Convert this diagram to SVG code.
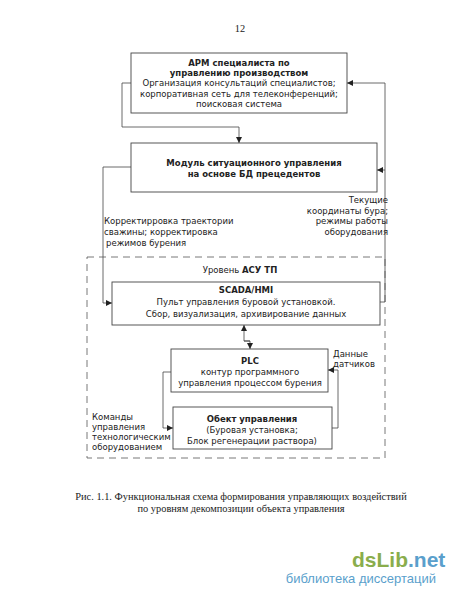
<svg xmlns="http://www.w3.org/2000/svg" width="450" height="599" viewBox="0 0 450 599">
<defs>
<marker id="ah" viewBox="0 0 10 10" refX="10" refY="5" markerWidth="6" markerHeight="6" markerUnits="userSpaceOnUse" orient="auto"><path d="M0,0 L10,5 L0,10 z" fill="#222"/></marker>
<style>
.box{fill:#fff;stroke:#444;stroke-width:0.9}
.ln{fill:none;stroke:#444;stroke-width:0.8}
.dash{fill:none;stroke:#555;stroke-width:0.8;stroke-dasharray:7,5}
text{font-family:"DejaVu Sans",Verdana,sans-serif;font-size:8.5px;fill:#222}
.c{text-anchor:middle}
.b{font-weight:bold}
.r{text-anchor:end}
.cap{font-family:"Liberation Serif","Times New Roman",serif;font-size:10.4px;text-anchor:middle;fill:#222}
</style>
</defs>
<rect width="450" height="599" fill="#fff"/>
<text class="cap" x="240" y="32">12</text>
<g id="connectors">
<polyline class="ln" points="131,83 122,83 122,127 239,127 239,143" marker-end="url(#ah)"/>
<polyline class="ln" points="380,302 385,302 385,83 347,83" marker-end="url(#ah)"/>
<polyline class="ln" points="385,170 377,170" marker-end="url(#ah)"/>
<polyline class="ln" points="131,167 103,167 103,303 112,303" marker-end="url(#ah)"/>
<polyline class="ln" points="250,341 244,341 244,325" marker-end="url(#ah)"/>
<polyline class="ln" points="244,341 250,341 250,349" marker-end="url(#ah)"/>
<polyline class="ln" points="171,372 163,372 163,428 173,428" marker-end="url(#ah)"/>
<polyline class="ln" points="332,428 338,428 338,370 328,370" marker-end="url(#ah)"/>
</g>
<g id="asu-level">
<rect class="dash" x="87" y="257" width="298" height="201"/>
<text class="c" x="240" y="273">Уровень <tspan class="b">АСУ ТП</tspan></text>
</g>
<g id="arm">
<rect class="box" x="131" y="53" width="216" height="60"/>
<text class="c b" x="239" y="66">АРМ специалиста по</text>
<text class="c b" x="239" y="76">управлению производством</text>
<text class="c" x="239" y="86">Организация консультаций специалистов;</text>
<text class="c" x="239" y="97">корпоративная сеть для телеконференций;</text>
<text class="c" x="239" y="107">поисковая система</text>
</g>
<g id="module">
<rect class="box" x="131" y="143" width="246" height="49"/>
<text class="c b" x="254" y="166">Модуль ситуационного управления</text>
<text class="c b" x="254" y="177">на основе БД прецедентов</text>
</g>
<g id="label-correction">
<text x="104" y="224">Корректирровка траектории</text>
<text x="104" y="235">сважины; корректировка</text>
<text x="106" y="246">режимов бурения</text>
</g>
<g id="label-coords">
<text class="r" x="388" y="203">Текущие</text>
<text class="r" x="388" y="214">координаты бура;</text>
<text class="r" x="388" y="224">режимы работы</text>
<text class="r" x="388" y="235">оборудования</text>
</g>
<g id="scada">
<rect class="box" x="112" y="282" width="268" height="43"/>
<text class="c b" x="246" y="293">SCADA/HMI</text>
<text class="c" x="246" y="305">Пульт управления буровой установкой.</text>
<text class="c" x="246" y="317">Сбор, визуализация, архивирование данных</text>
</g>
<g id="plc">
<rect class="box" x="171" y="349" width="157" height="43"/>
<text class="c b" x="250" y="364">PLC</text>
<text class="c" x="250" y="375">контур программного</text>
<text class="c" x="250" y="386">управления процессом бурения</text>
</g>
<g id="object">
<rect class="box" x="173" y="407" width="159" height="42"/>
<text class="c b" x="252" y="422">Обект управления</text>
<text class="c" x="252" y="433">(Буровая установка;</text>
<text class="c" x="252" y="444">Блок регенерации раствора)</text>
</g>
<g id="label-sensors">
<text x="333" y="357">Данные</text>
<text x="333" y="367">датчиков</text>
</g>
<g id="label-commands">
<text x="92" y="420">Команды</text>
<text x="92" y="430">управления</text>
<text x="92" y="440">технологическим</text>
<text x="92" y="450">оборудованием</text>
</g>
<g id="caption">
<text class="cap" x="241" y="500">Рис. 1.1. Функциональная схема формирования управляющих воздействий</text>
<text class="cap" x="241" y="512">по уровням декомпозиции объекта управления</text>
</g>
<g id="watermark">
<text x="352" y="567" style="font-family:'Liberation Sans',Arial,sans-serif;font-size:21px;font-weight:bold"><tspan fill="#8aad4c">dsLib</tspan><tspan fill="#5a9fcc">.net</tspan></text>
<text x="436" y="583" style="font-family:'Liberation Sans',Arial,sans-serif;font-size:13px;fill:#5a9fcc;text-anchor:end">библиотека диссертаций</text>
</g>
</svg>
